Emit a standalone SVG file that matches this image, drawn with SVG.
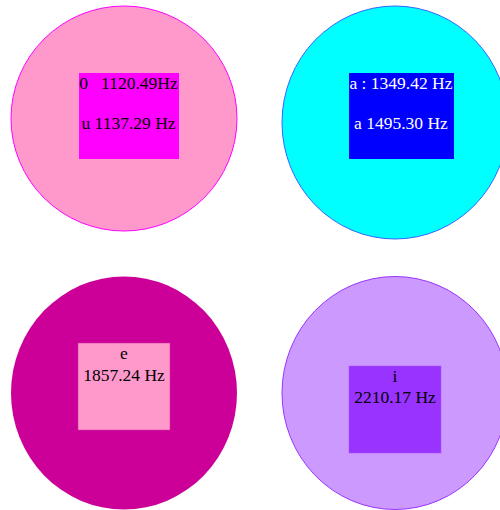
<svg xmlns="http://www.w3.org/2000/svg" width="500" height="510" viewBox="0 0 500 510">
<style>
text{font-family:"Liberation Serif","Times New Roman",serif;font-size:17.5px;text-anchor:middle}
.dark{fill:#000000}
.light{fill:#ffffff}
</style>
<rect width="500" height="510" fill="#ffffff"/>
<g id="node-o-u">
<ellipse cx="124" cy="118.5" rx="113" ry="112.5" fill="#ff99cc" stroke="#ff00ff" stroke-width="1"/>
<rect x="79" y="73" width="100" height="86" fill="#ff00ff"/>
<text class="dark" x="128.5" y="89" xml:space="preserve">0   1120.49Hz</text>
<text class="dark" x="128.5" y="129">u 1137.29 Hz</text>
</g>
<g id="node-a">
<ellipse cx="395" cy="122.5" rx="113" ry="116.5" fill="#00ffff" stroke="#3366ff" stroke-width="1"/>
<rect x="349" y="73" width="105" height="86" fill="#0000ff"/>
<text class="light" x="401" y="89">a : 1349.42 Hz</text>
<text class="light" x="401" y="129">a 1495.30 Hz</text>
</g>
<g id="node-e">
<ellipse cx="124" cy="393" rx="113" ry="116.5" fill="#cc0099"/>
<rect x="78" y="343" width="92" height="87" fill="#ff99cc" stroke="#cc3399" stroke-width="0.5"/>
<text class="dark" x="124" y="359">e</text>
<text class="dark" x="124" y="381">1857.24 Hz</text>
</g>
<g id="node-i">
<ellipse cx="395" cy="393" rx="113" ry="116.5" fill="#cc99ff" stroke="#9933ff" stroke-width="1"/>
<rect x="349" y="366" width="92" height="87" fill="#9933ff" stroke="#aa55ff" stroke-width="0.5"/>
<text class="dark" x="395" y="382">i</text>
<text class="dark" x="395" y="403">2210.17 Hz</text>
</g>
<g id="connectors"/>
</svg>
